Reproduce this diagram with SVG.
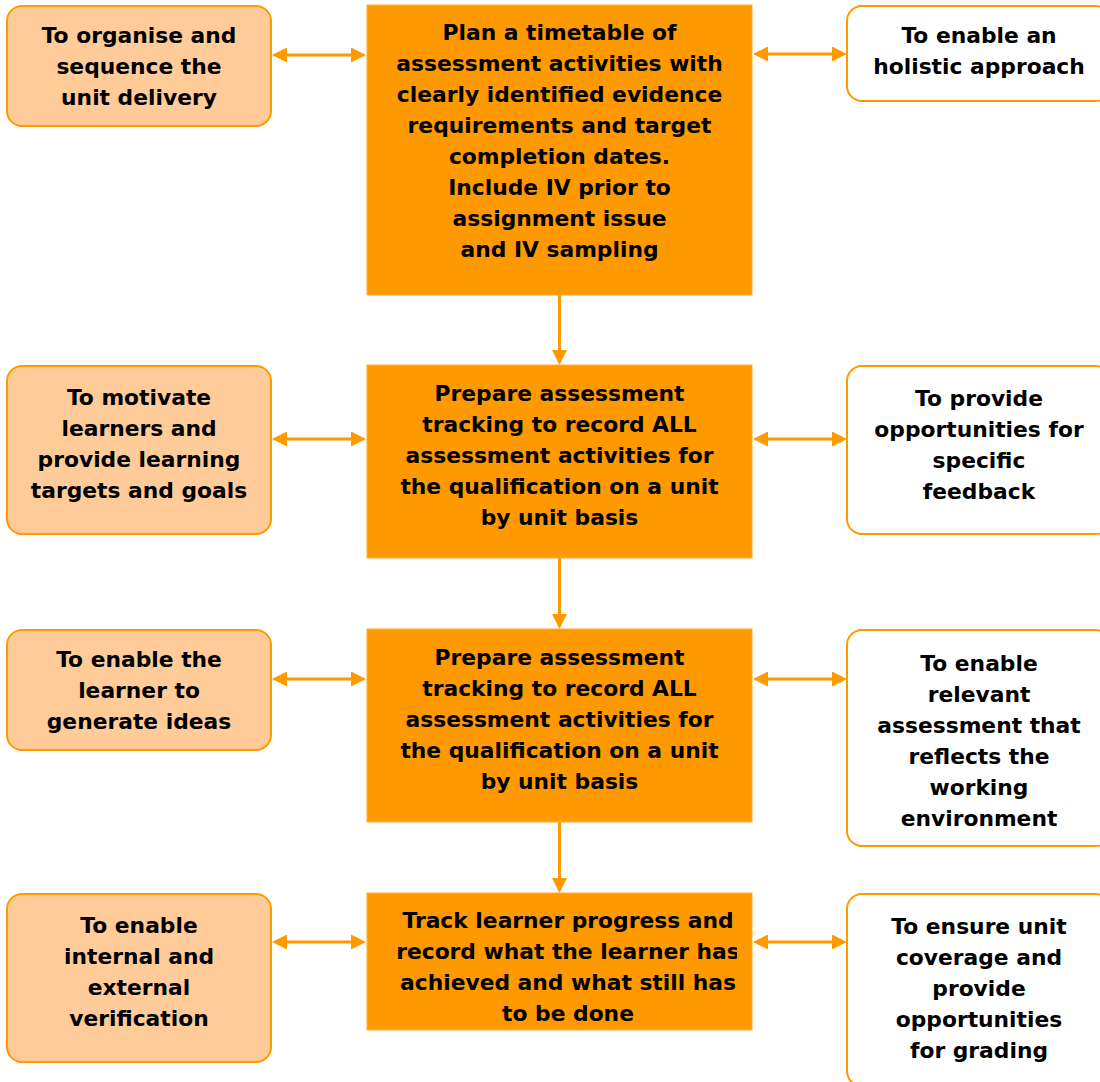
<svg xmlns="http://www.w3.org/2000/svg" width="1100" height="1082" viewBox="0 0 1100 1082">
  <style>
    .side { fill: #FFCC99; stroke: #FF9900; stroke-width: 2; }
    .open { fill: #FFFFFF; stroke: #FF9900; stroke-width: 2; }
    .step { fill: #FF9900; stroke: #FFAD33; stroke-width: 1; }
    text { font-family: "DejaVu Sans", Verdana, sans-serif; font-weight: bold; font-size: 21.8px; fill: #000000; text-anchor: middle; }
    .link { stroke: #FF9900; stroke-width: 3; fill: none; }
  </style>
  <defs>
    <marker id="head" viewBox="0 0 15 15" markerWidth="15" markerHeight="15" markerUnits="userSpaceOnUse" refX="9" refY="7.5" orient="auto-start-reverse">
      <path d="M0,0 L15,7.5 L0,15 z" fill="#FF9900"/>
    </marker>
    <clipPath id="trackClip">
      <rect x="367" y="893" width="370" height="140"/>
    </clipPath>
  </defs>

  <!-- connectors -->
  <g id="connectors">
    <!-- left purposes to steps -->
    <line class="link" x1="278" y1="55" x2="360" y2="55" marker-start="url(#head)" marker-end="url(#head)"/>
    <line class="link" x1="278" y1="439" x2="360" y2="439" marker-start="url(#head)" marker-end="url(#head)"/>
    <line class="link" x1="278" y1="679" x2="360" y2="679" marker-start="url(#head)" marker-end="url(#head)"/>
    <line class="link" x1="278" y1="942" x2="360" y2="942" marker-start="url(#head)" marker-end="url(#head)"/>
    <!-- steps to right purposes -->
    <line class="link" x1="759" y1="54" x2="841" y2="54" marker-start="url(#head)" marker-end="url(#head)"/>
    <line class="link" x1="759" y1="439" x2="841" y2="439" marker-start="url(#head)" marker-end="url(#head)"/>
    <line class="link" x1="759" y1="679" x2="841" y2="679" marker-start="url(#head)" marker-end="url(#head)"/>
    <line class="link" x1="759" y1="942" x2="841" y2="942" marker-start="url(#head)" marker-end="url(#head)"/>
    <!-- step sequence -->
    <line class="link" x1="559.5" y1="295" x2="559.5" y2="359" marker-end="url(#head)"/>
    <line class="link" x1="559.5" y1="558" x2="559.5" y2="623" marker-end="url(#head)"/>
    <line class="link" x1="559.5" y1="822" x2="559.5" y2="887" marker-end="url(#head)"/>
  </g>

  <!-- central steps -->
  <g id="step-plan">
    <rect class="step" x="367" y="5" width="385" height="290"/>
    <text x="559.5" y="39.5">Plan a timetable of</text>
    <text x="559.5" y="70.5">assessment activities with</text>
    <text x="559.5" y="101.5">clearly identified evidence</text>
    <text x="559.5" y="132.5">requirements and target</text>
    <text x="559.5" y="163.5">completion dates.</text>
    <text x="559.5" y="194.5">Include IV prior to</text>
    <text x="559.5" y="225.5">assignment issue</text>
    <text x="559.5" y="256.5">and IV sampling</text>
  </g>

  <g id="step-tracking-a">
    <rect class="step" x="367" y="365" width="385" height="193"/>
    <text x="559.5" y="401">Prepare assessment</text>
    <text x="559.5" y="432">tracking to record ALL</text>
    <text x="559.5" y="463">assessment activities for</text>
    <text x="559.5" y="494">the qualification on a unit</text>
    <text x="559.5" y="525">by unit basis</text>
  </g>

  <g id="step-tracking-b">
    <rect class="step" x="367" y="629" width="385" height="193"/>
    <text x="559.5" y="665">Prepare assessment</text>
    <text x="559.5" y="696">tracking to record ALL</text>
    <text x="559.5" y="727">assessment activities for</text>
    <text x="559.5" y="758">the qualification on a unit</text>
    <text x="559.5" y="789">by unit basis</text>
  </g>

  <g id="step-progress">
    <rect class="step" x="367" y="893" width="385" height="137"/>
    <g clip-path="url(#trackClip)">
      <text x="568" y="928">Track learner progress and</text>
      <text x="568" y="959">record what the learner has</text>
      <text x="568" y="990">achieved and what still has</text>
      <text x="568" y="1021">to be done</text>
    </g>
  </g>

  <!-- left purposes -->
  <g id="purpose-organise">
    <rect class="side" x="7" y="6" width="264" height="120" rx="15" ry="15"/>
    <text x="139" y="43">To organise and</text>
    <text x="139" y="74">sequence the</text>
    <text x="139" y="105">unit delivery</text>
  </g>

  <g id="purpose-motivate">
    <rect class="side" x="7" y="366" width="264" height="168" rx="15" ry="15"/>
    <text x="139" y="405">To motivate</text>
    <text x="139" y="436">learners and</text>
    <text x="139" y="467">provide learning</text>
    <text x="139" y="498">targets and goals</text>
  </g>

  <g id="purpose-ideas">
    <rect class="side" x="7" y="630" width="264" height="120" rx="15" ry="15"/>
    <text x="139" y="667">To enable the</text>
    <text x="139" y="698">learner to</text>
    <text x="139" y="729">generate ideas</text>
  </g>

  <g id="purpose-verification">
    <rect class="side" x="7" y="894" width="264" height="168" rx="15" ry="15"/>
    <text x="139" y="933">To enable</text>
    <text x="139" y="964">internal and</text>
    <text x="139" y="995">external</text>
    <text x="139" y="1026">verification</text>
  </g>

  <!-- right purposes -->
  <g id="purpose-holistic">
    <rect class="open" x="847" y="6" width="264" height="95" rx="15" ry="15"/>
    <text x="979" y="43">To enable an</text>
    <text x="979" y="74">holistic approach</text>
  </g>

  <g id="purpose-feedback">
    <rect class="open" x="847" y="366" width="264" height="168" rx="15" ry="15"/>
    <text x="979" y="406">To provide</text>
    <text x="979" y="437">opportunities for</text>
    <text x="979" y="468">specific</text>
    <text x="979" y="499">feedback</text>
  </g>

  <g id="purpose-relevant">
    <rect class="open" x="847" y="630" width="264" height="216" rx="15" ry="15"/>
    <text x="979" y="671">To enable</text>
    <text x="979" y="702">relevant</text>
    <text x="979" y="733">assessment that</text>
    <text x="979" y="764">reflects the</text>
    <text x="979" y="795">working</text>
    <text x="979" y="826">environment</text>
  </g>

  <g id="purpose-grading">
    <rect class="open" x="847" y="894" width="264" height="192" rx="15" ry="15"/>
    <text x="979" y="934">To ensure unit</text>
    <text x="979" y="965">coverage and</text>
    <text x="979" y="996">provide</text>
    <text x="979" y="1027">opportunities</text>
    <text x="979" y="1058">for grading</text>
  </g>
</svg>
